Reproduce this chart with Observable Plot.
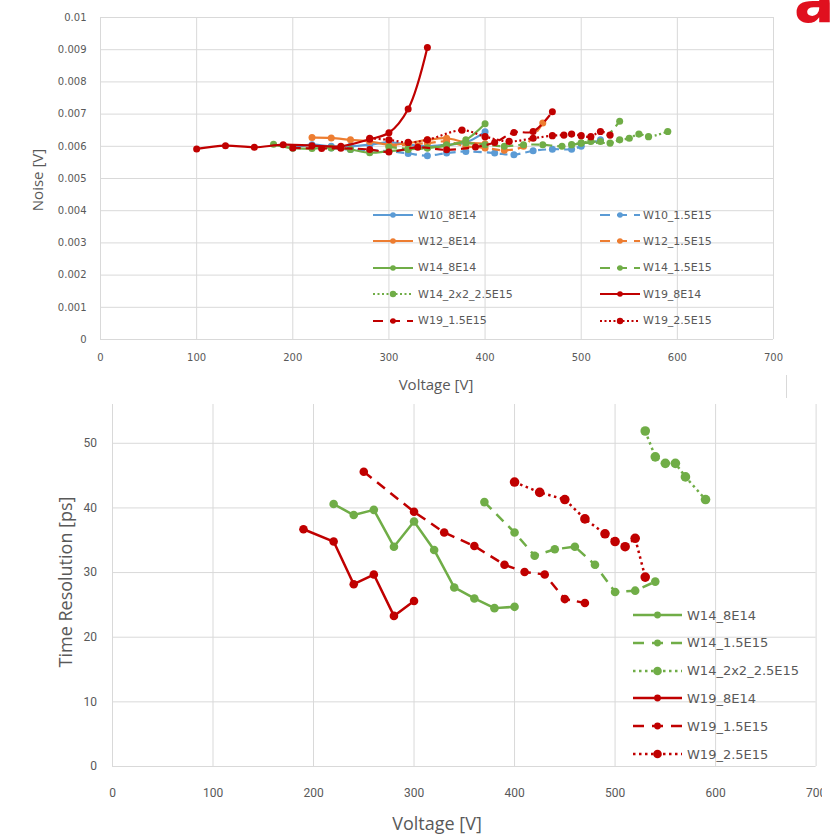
<!DOCTYPE html>
<html><head><meta charset="utf-8">
<script src="https://cdn.jsdelivr.net/npm/d3@7"></script>
<script src="https://cdn.jsdelivr.net/npm/@observablehq/plot@0.6"></script>
<style>
html,body{margin:0;padding:0;background:#fff;}
#wrap{position:relative;width:833px;height:836px;overflow:hidden;background:#fff;color:#595959;}
.ttl{position:absolute;white-space:nowrap;line-height:1;font-family:"Open Sans",sans-serif;color:#595959;}
</style></head><body><div id="wrap"></div>
<script>
// ---------- tick values ----------
const voltTicks = [0, 100, 200, 300, 400, 500, 600, 700];
const noiseTicks = [0, 0.001, 0.002, 0.003, 0.004, 0.005, 0.006, 0.007, 0.008, 0.009, 0.01];
const trTicks = [0, 10, 20, 30, 40, 50];

// ---------- colours ----------
const waferColors = {W10: "#5B9BD5", W12: "#ED7D31", W14: "#70AD47", W19: "#C00000"};

// ---------- top chart: Noise [V] vs Voltage [V] ----------
const noiseNames = ["W10_8E14", "W10_1.5E15", "W12_8E14", "W12_1.5E15", "W14_8E14", "W14_1.5E15", "W14_2x2_2.5E15", "W19_8E14", "W19_1.5E15", "W19_2.5E15"];
const nV_W10_8E14 = [200, 220, 240, 260, 280, 300, 320, 340, 360, 380, 400];
const nY_W10_8E14 = [0.00595, 0.00605, 0.00600, 0.00600, 0.00605, 0.00612, 0.00605, 0.00600, 0.00605, 0.00612, 0.00645];
const nV_W10_15E15 = [240, 260, 280, 300, 320, 340, 360, 380, 410, 430, 450, 470, 490, 500, 520];
const nY_W10_15E15 = [0.00595, 0.00590, 0.00588, 0.00585, 0.00578, 0.00571, 0.00579, 0.00584, 0.00579, 0.00574, 0.00586, 0.00591, 0.00591, 0.00600, 0.00620];
const nV_W12_8E14 = [220, 240, 260, 280, 300, 320, 340, 360, 380, 400];
const nY_W12_8E14 = [0.00627, 0.00626, 0.00620, 0.00615, 0.00605, 0.00610, 0.00620, 0.00625, 0.00612, 0.00608];
const nV_W12_15E15 = [300, 320, 340, 360, 380, 400, 420, 440, 460];
const nY_W12_15E15 = [0.00600, 0.00605, 0.00610, 0.00615, 0.00600, 0.00595, 0.00588, 0.00600, 0.00672];
const nV_W14_8E14 = [180, 200, 220, 240, 260, 280, 300, 320, 340, 360, 380, 400];
const nY_W14_8E14 = [0.00606, 0.00594, 0.00593, 0.00595, 0.00590, 0.00580, 0.00585, 0.00590, 0.00595, 0.00602, 0.00620, 0.00670];
const nV_W14_15E15 = [300, 320, 340, 360, 380, 400, 420, 440, 460, 480, 500, 520, 540];
const nY_W14_15E15 = [0.00598, 0.00592, 0.00595, 0.00605, 0.00610, 0.00605, 0.00600, 0.00605, 0.00605, 0.00600, 0.00610, 0.00615, 0.00678];
const nV_W14_25E15 = [490, 500, 510, 530, 540, 550, 560, 570, 590];
const nY_W14_25E15 = [0.00605, 0.00610, 0.00615, 0.00610, 0.00620, 0.00625, 0.00638, 0.00630, 0.00646];
const nV_W19_8E14 = [100, 130, 160, 190, 220, 250, 280, 300, 320, 340];
const nY_W19_8E14 = [0.00592, 0.00602, 0.00597, 0.00605, 0.00602, 0.00600, 0.00622, 0.00642, 0.00716, 0.00907];
const nV_W19_15E15 = [200, 230, 250, 280, 300, 330, 360, 390, 410, 430, 450, 470];
const nY_W19_15E15 = [0.00595, 0.00593, 0.00594, 0.00590, 0.00582, 0.00597, 0.00589, 0.00598, 0.00612, 0.00643, 0.00646, 0.00707];
const nV_W19_25E15 = [280, 300, 320, 340, 376, 400, 425, 450, 470, 482, 490, 500, 510, 520, 530];
const nY_W19_25E15 = [0.00625, 0.00620, 0.00612, 0.00620, 0.00650, 0.00630, 0.00615, 0.00625, 0.00633, 0.00635, 0.00638, 0.00633, 0.00630, 0.00646, 0.00635];

// ---------- bottom chart: Time Resolution [ps] vs Voltage [V] ----------
const trNames = ["W14_8E14", "W14_1.5E15", "W14_2x2_2.5E15", "W19_8E14", "W19_1.5E15", "W19_2.5E15"];
const tV_W14_8E14 = [220, 240, 260, 280, 300, 320, 340, 360, 380, 400];
const tY_W14_8E14 = [40.6, 38.9, 39.7, 34.0, 37.9, 33.5, 27.7, 26.0, 24.5, 24.7];
const tV_W14_15E15 = [370, 400, 420, 440, 460, 480, 500, 520, 540];
const tY_W14_15E15 = [40.9, 36.2, 32.6, 33.6, 34.0, 31.2, 27.0, 27.2, 28.6];
const tV_W14_25E15 = [530, 540, 550, 560, 570, 590];
const tY_W14_25E15 = [51.9, 47.9, 46.9, 46.9, 44.8, 41.3];
const tV_W19_8E14 = [190, 220, 240, 260, 280, 300];
const tY_W19_8E14 = [36.7, 34.8, 28.2, 29.7, 23.3, 25.6];
const tV_W19_15E15 = [250, 300, 330, 360, 390, 410, 430, 450, 470];
const tY_W19_15E15 = [45.6, 39.4, 36.2, 34.1, 31.2, 30.1, 29.7, 25.9, 25.3];
const tV_W19_25E15 = [400, 425, 450, 470, 490, 500, 510, 520, 530];
const tY_W19_25E15 = [44.0, 42.4, 41.3, 38.3, 36.0, 34.8, 34.0, 35.3, 29.3];

// ---------- build series tables ----------
function styleOf(name) { return name.endsWith("8E14") ? "solid" : name.endsWith("1.5E15") ? "dash" : "dot"; }
function mk(name, xs, ys) {
  return {name, color: waferColors[name.slice(0, 3)], style: styleOf(name), pts: xs.map((x, i) => ({x, y: ys[i]}))};
}
const noiseSeries = [
  mk(noiseNames[0], nV_W10_8E14, nY_W10_8E14),
  mk(noiseNames[1], nV_W10_15E15, nY_W10_15E15),
  mk(noiseNames[2], nV_W12_8E14, nY_W12_8E14),
  mk(noiseNames[3], nV_W12_15E15, nY_W12_15E15),
  mk(noiseNames[4], nV_W14_8E14, nY_W14_8E14),
  mk(noiseNames[5], nV_W14_15E15, nY_W14_15E15),
  mk(noiseNames[6], nV_W14_25E15, nY_W14_25E15),
  mk(noiseNames[7], nV_W19_8E14, nY_W19_8E14),
  mk(noiseNames[8], nV_W19_15E15, nY_W19_15E15),
  mk(noiseNames[9], nV_W19_25E15, nY_W19_25E15)
];
const trSeries = [
  mk(trNames[0], tV_W14_8E14, tY_W14_8E14),
  mk(trNames[1], tV_W14_15E15, tY_W14_15E15),
  mk(trNames[2], tV_W14_25E15, tY_W14_25E15),
  mk(trNames[3], tV_W19_8E14, tY_W19_8E14),
  mk(trNames[4], tV_W19_15E15, tY_W19_15E15),
  mk(trNames[5], tV_W19_25E15, tY_W19_25E15)
];

function seriesMarks(list, o) {
  const marks = [];
  for (const s of list) {
    const dash = s.style === "dash" ? o.dash : s.style === "dot" ? o.dot : undefined;
    marks.push(Plot.line(s.pts, {x: "x", y: "y", stroke: s.color, strokeWidth: o.sw, strokeDasharray: dash, strokeLinecap: "butt", curve: o.curve}));
    marks.push(Plot.dot(s.pts, {x: "x", y: "y", r: s.style === "dot" ? o.rDot : o.r, fill: s.color, stroke: "none"}));
  }
  return marks;
}

const wrap = document.getElementById("wrap");
const grid = "#d9d9d9";

// ---------- top plot ----------
const topPlot = Plot.plot({
  width: 790, height: 375,
  marginLeft: 100, marginRight: 17, marginTop: 17, marginBottom: 36,
  style: {background: "transparent", fontFamily: "DejaVu Sans, sans-serif", fontSize: "10px", color: "#595959", overflow: "visible"},
  x: {domain: [0, 700], ticks: voltTicks, tickSize: 0, tickPadding: 14, label: null},
  y: {domain: [0, 0.01], ticks: noiseTicks, tickSize: 0, tickPadding: 14, label: null, tickFormat: d => d === 0 ? "0" : String(+d.toFixed(3))},
  marks: [
    Plot.ruleX(voltTicks, {stroke: grid, strokeWidth: 1}),
    Plot.ruleY(noiseTicks, {stroke: grid, strokeWidth: 1}),
    ...seriesMarks(noiseSeries, {sw: 2.2, dash: "8,5", dot: "2,2.5", r: 3.5, rDot: 3.6, curve: "catmull-rom"})
  ]
});
topPlot.style.position = "absolute";
topPlot.style.left = "0px";
topPlot.style.top = "0px";
wrap.appendChild(topPlot);

// ---------- bottom plot ----------
const botBox = document.createElement("div");
botBox.style.cssText = "position:absolute;left:0;top:380px;width:822px;height:456px;overflow:hidden;";
const botPlot = Plot.plot({
  width: 822, height: 456,
  marginLeft: 112, marginRight: 6.4, marginTop: 24, marginBottom: 70,
  style: {background: "transparent", fontFamily: "'Liberation Sans Narrow', 'Roboto', sans-serif", fontSize: "12px", color: "#595959"},
  x: {domain: [0, 700], ticks: voltTicks, tickSize: 0, tickPadding: 21.5, label: null},
  y: {domain: [0, 56], ticks: trTicks, tickSize: 0, tickPadding: 15.5, label: null},
  marks: [
    Plot.ruleX(voltTicks, {stroke: grid, strokeWidth: 1}),
    Plot.ruleY(trTicks, {stroke: grid, strokeWidth: 1}),
    ...seriesMarks(trSeries, {sw: 2.5, dash: "10,7", dot: "2.5,3.5", r: 4.3, rDot: 4.8, curve: "linear"})
  ]
});
botBox.appendChild(botPlot);
wrap.appendChild(botBox);

// ---------- axis titles ----------
function title(text, cx, cy, size, rot) {
  const d = document.createElement("div");
  d.className = "ttl";
  d.textContent = text;
  d.style.left = cx + "px";
  d.style.top = cy + "px";
  d.style.fontSize = size + "px";
  d.style.transform = "translate(-50%,-50%)" + (rot ? " rotate(-90deg)" : "");
  wrap.appendChild(d);
}
title("Noise [V]", 37, 180, 15, true);
title("Voltage [V]", 436, 384, 15, false);
title("Time Resolution [ps]", 65, 582, 18, true);
title("Voltage [V]", 437, 823, 18, false);

// ---------- legends ----------
function legend(list, o) {
  list.forEach((s, i) => {
    const col = i % o.cols, row = Math.floor(i / o.cols);
    const cy = o.top + row * o.pitch;
    const dash = s.style === "dash" ? o.dash : s.style === "dot" ? o.dot : "";
    const r = s.style === "dot" ? o.rDot : o.r;
    const d = document.createElement("div");
    d.style.cssText = `position:absolute;left:${o.left[col]}px;top:${cy - o.h / 2}px;height:${o.h}px;display:flex;align-items:center;white-space:nowrap;font-family:'DejaVu Sans',sans-serif;font-size:${o.fs}px;color:#595959;`;
    d.innerHTML = `<svg width="${o.w}" height="${o.h}" style="display:block;flex:none"><line x1="0" x2="${o.w}" y1="${o.h / 2}" y2="${o.h / 2}" stroke="${s.color}" stroke-width="${o.sw}" ${dash ? `stroke-dasharray="${dash}"` : ""}/><circle cx="${o.w / 2}" cy="${o.h / 2}" r="${r}" fill="${s.color}"/></svg><span style="margin-left:${o.gap[col]}px">${s.name}</span>`;
    wrap.appendChild(d);
  });
}
legend(noiseSeries, {cols: 2, left: [373, 600], gap: [5, 3], top: 215, pitch: 26.4, h: 14, w: 40, sw: 2.2, r: 2.8, rDot: 3.2, dash: "10,7", dot: "2,2.5", fs: 11});
legend(trSeries, {cols: 1, left: [633], gap: [5], top: 615, pitch: 27.8, h: 16, w: 49, sw: 2.5, r: 3.4, rDot: 4.3, dash: "11,8", dot: "2.5,3.5", fs: 13});

// ---------- decorations (image border, cropped logo) ----------
const deco = document.createElementNS("http://www.w3.org/2000/svg", "svg");
deco.setAttribute("width", 833);
deco.setAttribute("height", 836);
deco.style.cssText = "position:absolute;left:0;top:0;pointer-events:none;";
deco.innerHTML = `<line x1="786.5" x2="786.5" y1="375" y2="398" stroke="#d9d9d9" stroke-width="1"/>
<text x="794" y="22" font-family="DejaVu Sans" font-weight="bold" font-size="60" fill="#E0101E">a</text>`;
wrap.appendChild(deco);
</script>
</body></html>
